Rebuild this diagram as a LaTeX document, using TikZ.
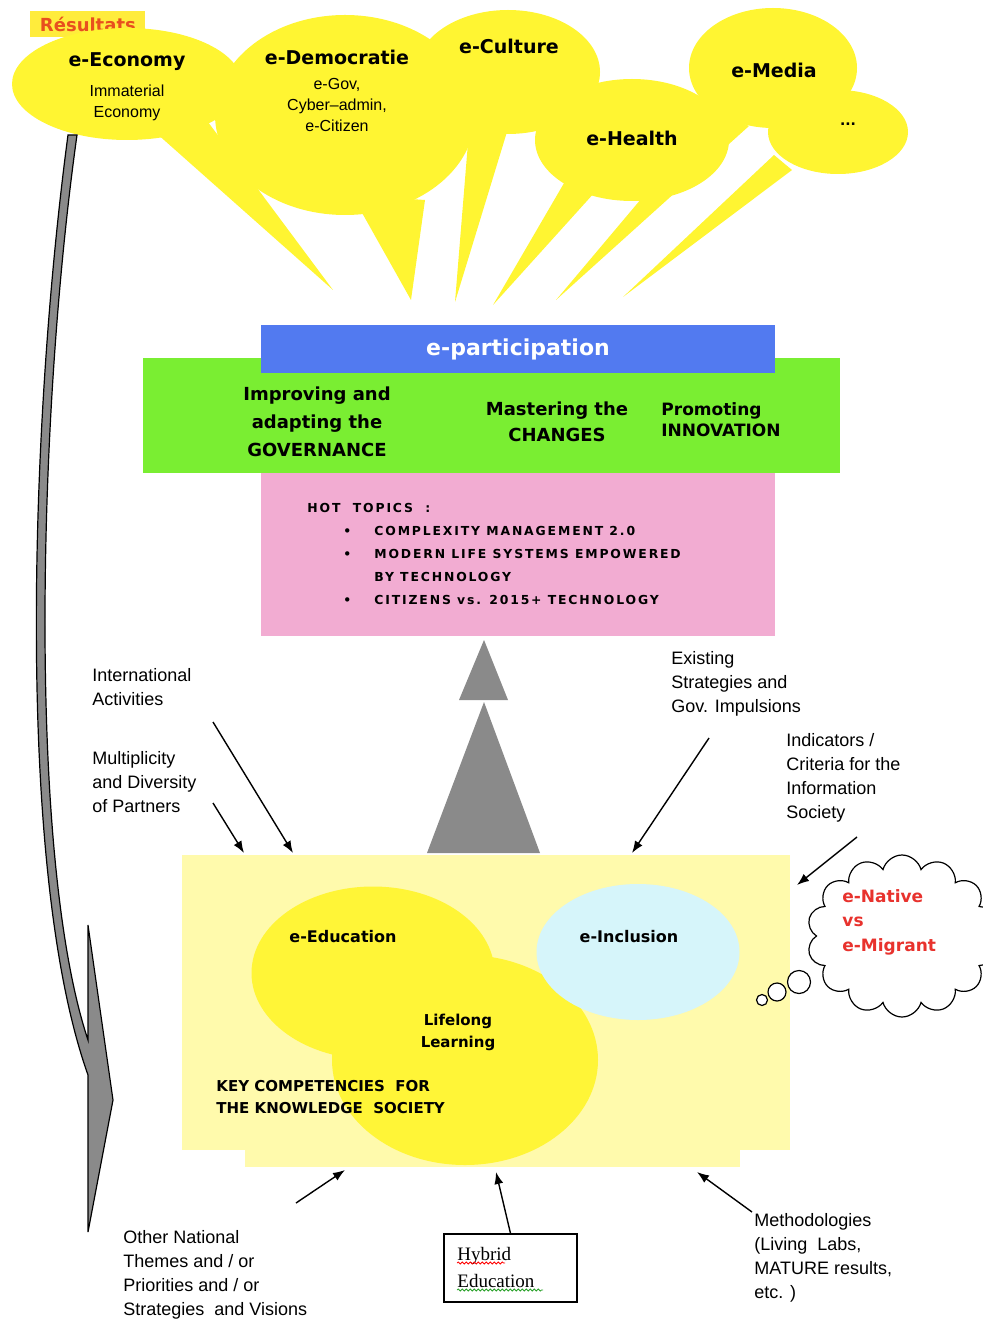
\documentclass[tikz,border=0pt]{standalone}
\usepackage{fontspec}
\setmainfont{Liberation Sans}
\newfontfamily\headfont{DejaVu Sans}
\newfontfamily\hotfont[LetterSpace=15]{DejaVu Sans}
\newfontfamily\hybridfont{Liberation Serif}
\usetikzlibrary{positioning,arrows.meta,shapes.geometric,shapes.symbols,decorations.pathmorphing}

\definecolor{bubbleyellow}{RGB}{255,245,50}
\definecolor{resyellow}{RGB}{255,236,60}
\definecolor{resred}{RGB}{232,80,30}
\definecolor{partblue}{RGB}{82,122,240}
\definecolor{partgreen}{RGB}{122,238,50}
\definecolor{hotpink}{RGB}{242,172,210}
\definecolor{keypale}{RGB}{255,250,172}
\definecolor{eduyellow}{RGB}{255,245,55}
\definecolor{inclcyan}{RGB}{214,245,250}
\definecolor{arrowgray}{RGB}{138,138,138}
\definecolor{nativered}{RGB}{232,50,45}
\definecolor{spellgreen}{RGB}{40,160,40}

\begin{document}
\begin{tikzpicture}[x=0.5pt,y=-0.5pt,>={Latex[length=6pt,width=4.5pt]},
    bubble/.style={ellipse,fill=bubbleyellow,inner sep=0pt},
    bubbletitle/.style={font=\headfont\bfseries\fontsize{9.5}{11}\selectfont},
    bubbletext/.style={font=\fontsize{8}{10.5}\selectfont,align=center},
    panel/.style={rectangle,inner sep=0pt},
    goal/.style={font=\headfont\bfseries\fontsize{9}{14}\selectfont,inner sep=0pt},
    keytext/.style={font=\headfont\bfseries\fontsize{8}{11}\selectfont,inner sep=0pt},
    lbl/.style={font=\fontsize{9}{12}\selectfont,align=left,anchor=north west,inner sep=0pt},
    feed/.style={->,line width=0.7pt},
    puff/.style={circle,draw,fill=white,line width=0.6pt,inner sep=0pt}]
    \useasboundingbox (0,0) rectangle (983,1320);

    % results bubbles
    \node[panel,fill=resyellow,anchor=north west,minimum width=57.5pt,minimum height=13pt,
        text=resred,font=\headfont\bfseries\fontsize{9}{10}\selectfont] (res) at (30,11) {\raisebox{-2.5pt}{Résultats}};
    \node[bubble,minimum width=115pt,minimum height=56pt] (eco) at (127,84) {};
    \node[bubble,minimum width=130pt,minimum height=100pt] (demo) at (345,115) {};
    \node[bubble,minimum width=92pt,minimum height=62pt] (cul) at (508,72) {};
    \node[bubble,minimum width=97pt,minimum height=61pt] (hea) at (632,140) {};
    \node[bubble,minimum width=84pt,minimum height=60pt] (med) at (773,68) {};
    \node[bubble,minimum width=70pt,minimum height=42pt] (dots) at (838,132) {};
    \coordinate (ecoTip) at (333,290);
    \coordinate (demoTip) at (411,300);
    \coordinate (culTip) at (455,302);
    \coordinate (heaTip) at (493,305);
    \coordinate (medTip) at (556,300);
    \coordinate (dotsTip) at (623,297);
    \fill[bubbleyellow] (155,132) -- (208,122) -- (ecoTip) -- cycle;
    \fill[bubbleyellow] (352,195) -- (425,200) -- (demoTip) -- cycle;
    \fill[bubbleyellow] (470,118) -- (510,122) -- (culTip) -- cycle;
    \fill[bubbleyellow] (567,178) -- (595,192) -- (heaTip) -- cycle;
    \fill[bubbleyellow] (716,110) -- (749,126) -- (medTip) -- cycle;
    \fill[bubbleyellow] (774,155) -- (792,170) -- (dotsTip) -- cycle;
    \node[bubbletitle] (ecoT) at (127,62) {e-Economy};
    \node[bubbletext,below=0pt of ecoT] (ecoS) {Immaterial\\Economy};
    \node[bubbletitle] (demoT) at (337,57) {e-Democratie};
    \node[bubbletext,below=0pt of demoT] (demoS) {e-Gov,\\Cyber--admin,\\e-Citizen};
    \node[bubbletitle] (culT) at (509,46) {e-Culture};
    \node[bubbletitle] (heaT) at (632,138) {e-Health};
    \node[bubbletitle] (medT) at (774,70) {e-Media};
    \node[bubbletitle,font=\headfont\bfseries\fontsize{7}{8}\selectfont] (dotsT) at (848,124) {...};

    % feedback arrow
    \filldraw[fill=arrowgray,draw=black,line width=0.6pt]
        (68,135) .. controls (30,420) and (15,870) .. (88,1075) -- (88,1232) -- (113,1100)
        -- (88,925) -- (88,1040) .. controls (28,860) and (37,420) .. (77,135) -- cycle;

    % e-participation
    \node[panel,fill=partgreen,minimum width=348.5pt,minimum height=57.5pt] (goals) at (491.5,415.5) {};
    \node[panel,fill=partblue,minimum width=257pt,minimum height=24pt,text=white,
        font=\headfont\bfseries\fontsize{11}{12}\selectfont] (epart) at (518,349) {e-participation};
    \node[goal,align=center] (gov) at (317,422) {Improving and\\adapting the\\GOVERNANCE};
    \node[goal,align=center,font=\headfont\bfseries\fontsize{9}{13}\selectfont] (chg) at (557,422) {Mastering the\\CHANGES};
    \node[goal,align=left,anchor=west,font=\headfont\bfseries\fontsize{8.5}{10.5}\selectfont] (inno) at (661,420) {Promoting\\INNOVATION};
    \node[panel,fill=hotpink,minimum width=257pt,minimum height=81.5pt] (hot) at (518,554.5) {};
    \node[anchor=north west,align=left,inner sep=0pt,font=\hotfont\bfseries\fontsize{6.2}{11.5}\selectfont] (hotT) at (307,503)
        {HOT\ \ TOPICS\ \ :\\
        \hspace*{18pt}\makebox[15.5pt][l]{•}COMPLEXITY MANAGEMENT 2.0\\
        \hspace*{18pt}\makebox[15.5pt][l]{•}MODERN LIFE SYSTEMS EMPOWERED\\
        \hspace*{33.5pt}BY TECHNOLOGY\\
        \hspace*{18pt}\makebox[15.5pt][l]{•}CITIZENS vs. 2015+ TECHNOLOGY};

    % rising triangles
    \fill[arrowgray] (484,640) -- (508,700) -- (459,700) -- cycle;
    \fill[arrowgray] (484,702) -- (540,853) -- (427,853) -- cycle;

    % key competencies
    \node[panel,fill=keypale,minimum width=304pt,minimum height=147.5pt] (key) at (486,1002.5) {};
    \node[panel,fill=keypale,minimum width=247.5pt,minimum height=11pt] (keyStrip) at (492.5,1156) {};
    \node[ellipse,fill=eduyellow,inner sep=0pt,minimum width=121.5pt,minimum height=86.5pt] (edu) at (373,973) {};
    \node[ellipse,fill=eduyellow,inner sep=0pt,minimum width=133pt,minimum height=105pt] (life) at (465,1060) {};
    \node[ellipse,fill=inclcyan,inner sep=0pt,minimum width=101.5pt,minimum height=68pt] (incl) at (638,952) {};
    \node[keytext] (eduT) at (343,937) {e-Education};
    \node[keytext] (inclT) at (629,937) {e-Inclusion};
    \node[keytext,align=center,font=\headfont\bfseries\fontsize{7.5}{11}\selectfont] (lifeT) at (458,1032) {Lifelong\\Learning};
    \node[keytext,align=left,anchor=west,font=\headfont\bfseries\fontsize{7.5}{11}\selectfont] (keyT) at (216,1097)
        {KEY COMPETENCIES\ \ FOR\\THE KNOWLEDGE\ \ SOCIETY};

    % thought cloud
    \node[cloud,cloud puffs=14,aspect=1.2,draw,fill=white,line width=0.6pt,inner sep=0pt,
        minimum width=95pt,minimum height=81pt] (cloud) at (902,936) {};
    \node[puff,minimum size=11.5pt] (puffA) at (799,982) {};
    \node[puff,minimum size=9pt] (puffB) at (777,992) {};
    \node[puff,minimum size=5.5pt] (puffC) at (762,1000) {};
    \node[lbl,anchor=west,text=nativered,font=\headfont\bfseries\fontsize{8.5}{12.25}\selectfont] (native) at (842,922)
        {e-Native\\vs\\e-Migrant};

    % inputs
    \node[lbl] (intl) at (92,668) {International\\Activities};
    \node[lbl] (multi) at (92,751) {Multiplicity\\and Diversity\\of Partners};
    \node[lbl] (exist) at (671,651) {Existing\\Strategies and\\Gov. Impulsions};
    \node[lbl] (indic) at (786,733) {Indicators /\\Criteria for the\\Information\\Society};
    \node[lbl] (other) at (123,1230) {Other National\\Themes and / or\\Priorities and / or\\Strategies\ \ and Visions};
    \node[lbl] (meth) at (754,1213) {Methodologies\\(Living\ \ Labs,\\MATURE results,\\etc. )};
    \node[draw,line width=0.6pt,minimum width=66.5pt,minimum height=34pt,inner sep=0pt] (hybrid) at (510.5,1268) {};
    \node[lbl,anchor=west,font=\hybridfont\fontsize{9.5}{13.5}\selectfont] (hybridT) at (457,1267) {Hybrid\\Education};
    \draw[red,line width=0.4pt,decorate,decoration={snake,amplitude=0.5pt,segment length=2pt}] (457,1263) -- (505,1263);
    \draw[spellgreen,line width=0.4pt,decorate,decoration={snake,amplitude=0.5pt,segment length=2pt}] (457,1290) -- (543,1290);

    \coordinate (intlS) at (213,722);   \coordinate (intlE) at (293,853);
    \coordinate (multiS) at (213,803);  \coordinate (multiE) at (244,853);
    \coordinate (existS) at (709,738);  \coordinate (existE) at (632,853);
    \coordinate (indicS) at (857,837);  \coordinate (indicE) at (797,885);
    \coordinate (otherS) at (296,1203); \coordinate (otherE) at (345,1170);
    \coordinate (hybridE) at (496,1172);
    \coordinate (methS) at (752,1212);  \coordinate (methE) at (697,1172);
    \draw[feed] (intlS) -- (intlE);
    \draw[feed] (multiS) -- (multiE);
    \draw[feed] (existS) -- (existE);
    \draw[feed] (indicS) -- (indicE);
    \draw[feed] (otherS) -- (otherE);
    \draw[feed] (hybrid.north) -- (hybridE);
    \draw[feed] (methS) -- (methE);
\end{tikzpicture}
\end{document}
